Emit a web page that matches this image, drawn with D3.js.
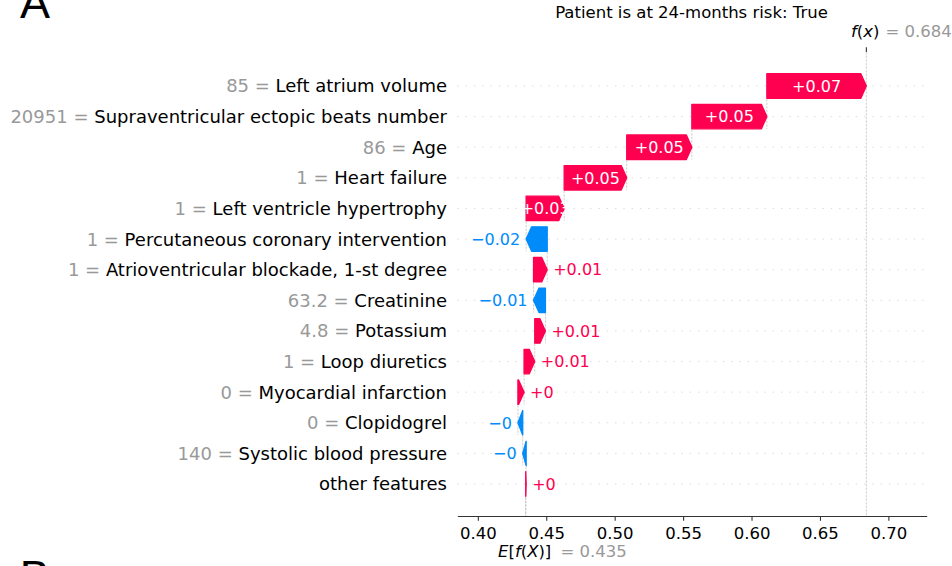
<!DOCTYPE html>
<html>
<head>
<meta charset="utf-8">
<script src="https://cdn.jsdelivr.net/npm/d3@7"></script>
<style>
body { margin: 0; background: #fff; }
svg { display: block; font-family: "DejaVu Sans", sans-serif; }
</style>
</head>
<body>
<svg id="chart" width="952" height="566"></svg>
<script>
/*
chart data (top row first)
*/
var feature_names = [
    "Left atrium volume",
    "Supraventricular ectopic beats number",
    "Age",
    "Heart failure",
    "Left ventricle hypertrophy",
    "Percutaneous coronary intervention",
    "Atrioventricular blockade, 1-st degree",
    "Creatinine",
    "Potassium",
    "Loop diuretics",
    "Myocardial infarction",
    "Clopidogrel",
    "Systolic blood pressure",
    "other features"
];
var feature_values = ["85", "20951", "86", "1", "1", "1", "1", "63.2", "4.8", "1", "0", "0", "140", ""];
var shap_values = [0.0727, 0.0548, 0.0476, 0.0457, 0.0278, -0.0154, 0.0100,
                   -0.0087, 0.0078, 0.0078, 0.0045, -0.0035, -0.0025, 0.0003];
var base_value = 0.435;
var x_ticks = [0.40, 0.45, 0.50, 0.55, 0.60, 0.65, 0.70];
var title_text = "Patient is at 24-months risk: True";

/*
layout
*/
var red = "#ff0051", blue = "#008bfb";
var ax_left = 457.3, ax_right = 926.7, ax_top = 52, ax_bottom = 516;
var bar_h = 24.5, head_len = 5.5;

var svg = d3.select("#chart");

var x = d3.scaleLinear().domain([0.385, 0.728]).range([ax_left, ax_right]);
var y = d3.scalePoint().domain(d3.range(feature_names.length)).range([86, 484]);
var step = y.step();

// cumulative positions, walking down from f(x)
var fx = base_value + d3.sum(shap_values);
var loc = fx;
var bars = [];
shap_values.forEach(function(v, i){
    var end = loc;
    loc -= v;
    bars.push({i: i, v: v, start: loc, end: end});
});

// shap style number format: strip trailing zeros
function fmt_val(v){
    var s = d3.format("+.2f")(v);
    s = s.replace(/0+$/, "").replace(/\.$/, "");
    return s;
}

//horizontal dotted grid lines
svg.append("g").selectAll("line")
    .data(bars).enter().append("line")
    .attr("x1", ax_left).attr("x2", ax_right)
    .attr("y1", function(d){ return y(d.i); })
    .attr("y2", function(d){ return y(d.i); })
    .attr("stroke", "#cccccc").attr("stroke-width", 0.7)
    .attr("stroke-dasharray", "1.4,6.9");

//vertical connectors
svg.append("g").selectAll("line")
    .data(bars).enter().append("line")
    .attr("x1", function(d){ return x(d.start); })
    .attr("x2", function(d){ return x(d.start); })
    .attr("y1", function(d){ return y(d.i) - bar_h/2; })
    .attr("y2", function(d){ return Math.min(y(d.i) + step + bar_h/2, ax_bottom); })
    .attr("stroke", "#bbbbbb").attr("stroke-width", 0.7)
    .attr("stroke-dasharray", "2.5,1.1");

// f(x) and E[f(X)] lines
svg.append("line")
    .attr("x1", x(fx)).attr("x2", x(fx))
    .attr("y1", ax_top).attr("y2", ax_bottom)
    .attr("stroke", "#bbbbbb").attr("stroke-width", 0.7)
    .attr("stroke-dasharray", "2.5,1.1");
svg.append("line")
    .attr("x1", x(base_value)).attr("x2", x(base_value))
    .attr("y1", ax_bottom - (ax_bottom - ax_top) / feature_names.length).attr("y2", ax_bottom)
    .attr("stroke", "#bbbbbb").attr("stroke-width", 0.7)
    .attr("stroke-dasharray", "2.5,1.1");
svg.append("line")
    .attr("x1", x(fx)).attr("x2", x(fx))
    .attr("y1", ax_top - 4.8).attr("y2", ax_top)
    .attr("stroke", "#333").attr("stroke-width", 1.1);

//arrows
function arrow_path(d){
    var x0 = x(d.start), x1 = x(d.end), yc = y(d.i), h = bar_h/2;
    var dir = x1 >= x0 ? 1 : -1;
    var hl = Math.min(Math.abs(x1 - x0), head_len);
    var xb = x1 - dir*hl;
    return "M" + x0 + "," + (yc-h) + "L" + xb + "," + (yc-h) + "L" + x1 + "," + yc +
           "L" + xb + "," + (yc+h) + "L" + x0 + "," + (yc+h) + "Z";
}
svg.append("g").selectAll("path")
    .data(bars).enter().append("path")
    .attr("d", arrow_path)
    .attr("fill", function(d){ return d.v >= 0 ? red : blue; })
    .attr("stroke", function(d){ return d.v >= 0 ? red : blue; })
    .attr("stroke-width", 1.3)
    .attr("stroke-linejoin", "round");

//bar labels, inside when the bar is wide enough
svg.append("g").selectAll("text")
    .data(bars).enter().append("text")
    .attr("font-size", "16px")
    .attr("dy", "0.36em")
    .attr("y", function(d){ return y(d.i); })
    .each(function(d){
        var w = Math.abs(x(d.end) - x(d.start));
        var t = d3.select(this).text(fmt_val(d.v));
        if (w > 30){
            t.attr("x", (x(d.start) + x(d.end)) / 2).attr("text-anchor", "middle").attr("fill", "#fff");
        } else if (d.v >= 0){
            t.attr("x", x(d.end) + 6).attr("text-anchor", "start").attr("fill", red);
        } else {
            t.attr("x", x(d.end) - 6).attr("text-anchor", "end").attr("fill", blue);
        }
    });

//feature labels
var lbl = svg.append("g").selectAll("text")
    .data(bars).enter().append("text")
    .attr("x", 447)
    .attr("y", function(d){ return y(d.i); })
    .attr("dy", "0.36em")
    .attr("text-anchor", "end")
    .attr("font-size", "18px");
lbl.append("tspan").attr("fill", "#999999")
    .text(function(d){ return feature_values[d.i] === "" ? "" : feature_values[d.i] + " = "; });
lbl.append("tspan").attr("fill", "#000")
    .text(function(d){ return feature_names[d.i]; });

//bottom axis
var axis = svg.append("g")
    .attr("transform", "translate(0," + ax_bottom + ")")
    .call(d3.axisBottom(x).tickValues(x_ticks).tickFormat(d3.format(".2f"))
        .tickSize(4.8).tickPadding(6.5).tickSizeOuter(0));
axis.select(".domain").attr("stroke", "#333").attr("stroke-width", 1.1);
axis.selectAll(".tick line").attr("stroke", "#333").attr("stroke-width", 1.1);
axis.selectAll(".tick text").attr("fill", "#000")
    .attr("font-size", "16.5px").attr("font-family", "DejaVu Sans, sans-serif");

// E[f(X)] label
var e_lbl = svg.append("text").attr("x", 498).attr("y", 557).attr("font-size", "16.5px").attr("fill", "#000");
e_lbl.append("tspan").attr("font-style", "italic").text("E");
e_lbl.append("tspan").text("[");
e_lbl.append("tspan").attr("font-style", "italic").text("f");
e_lbl.append("tspan").text("(");
e_lbl.append("tspan").attr("font-style", "italic").text("X");
e_lbl.append("tspan").text(")]");
svg.append("text").attr("x", 560.5).attr("y", 557).attr("font-size", "16.5px")
    .attr("fill", "#999999").text("= " + d3.format(".3f")(base_value));

// f(x) label
var f_lbl = svg.append("text").attr("x", 851).attr("y", 37).attr("font-size", "16.5px").attr("fill", "#000");
f_lbl.append("tspan").attr("font-style", "italic").text("f");
f_lbl.append("tspan").text("(");
f_lbl.append("tspan").attr("font-style", "italic").text("x");
f_lbl.append("tspan").text(")");
svg.append("text").attr("x", 885.5).attr("y", 37).attr("font-size", "16.5px")
    .attr("fill", "#999999").text("= " + d3.format(".3f")(fx));

//title
svg.append("text").attr("x", 691.5).attr("y", 18).attr("text-anchor", "middle")
    .attr("font-size", "16.5px").attr("fill", "#000").text(title_text);

//panel letters
svg.append("text").attr("x", 20).attr("y", 18).attr("font-size", "45px")
    .attr("font-family", "Liberation Sans, sans-serif").attr("fill", "#000").text("A");
svg.append("text").attr("x", 19.7).attr("y", 592).attr("font-size", "45px")
    .attr("font-family", "Liberation Sans, sans-serif").attr("fill", "#000").text("B");
</script>
</body>
</html>
